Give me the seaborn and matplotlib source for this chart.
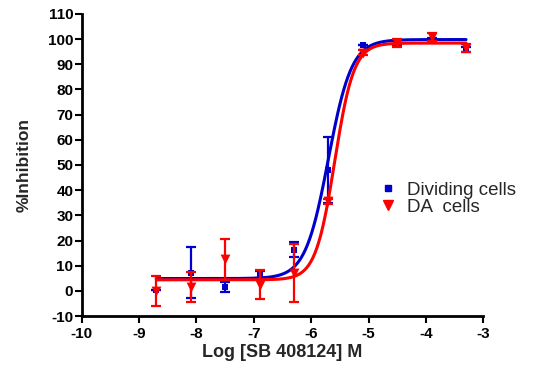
import numpy as np
import pandas as pd
import matplotlib
matplotlib.use("Agg")
import matplotlib.pyplot as plt
import seaborn as sns
from matplotlib.lines import Line2D

sns.set_style("ticks")
plt.rcParams['font.family'] = ['Liberation Sans', 'DejaVu Sans']
plt.rcParams['axes.unicode_minus'] = False

# log concentrations
log_conc = [-8.7, -8.1, -7.5, -6.9, -6.3, -5.7, -5.1, -4.5, -3.9, -3.3]

# Dividing cells (mean, SEM)
div_mean = [0.3, 7.3, 1.5, 6.5, 16.3, 48.0, 97.5, 98.5, 99.5, 95.8]
div_sem = [0.0, 10.3, 2.0, 1.5, 3.0, 13.0, 0.0, 1.0, 1.0, 1.0]

# DA cells (mean, SEM)
da_mean = [0.0, 1.5, 12.5, 2.5, 7.0, 35.5, 94.5, 98.5, 100.8, 96.5]
da_sem = [6.0, 6.0, 8.0, 5.8, 11.5, 1.0, 1.0, 1.5, 1.5, 1.5]

# four-parameter logistic fit parameters: bottom, top, logEC50, hill
div_fit = [4.9, 99.8, -5.70, 2.15]
da_fit = [4.4, 98.4, -5.59, 2.6]

blue = '#0000cc'
red = '#ff0000'

def fit_curve(p):
    xs = np.linspace(min(log_conc), max(log_conc), 300)
    ys = p[0] + (p[1] - p[0]) / (1 + 10 ** ((p[2] - xs) * p[3]))
    return pd.DataFrame({'x': xs, 'y': ys})

fig = plt.figure(figsize=(5.34, 3.65), dpi=100)
ax = fig.add_axes([0.153, 0.134, 0.752, 0.828])

# fitted curves
sns.lineplot(data=fit_curve(div_fit), x='x', y='y', color=blue, lw=2.2, ax=ax, zorder=2)
sns.lineplot(data=fit_curve(da_fit), x='x', y='y', color=red, lw=2.2, ax=ax, zorder=4)

# error bars
ax.errorbar(log_conc, div_mean, yerr=div_sem, fmt='none', ecolor=blue,
            elinewidth=1.6, capsize=3.5, capthick=1.6, zorder=3)
ax.errorbar(log_conc, da_mean, yerr=da_sem, fmt='none', ecolor=red,
            elinewidth=1.6, capsize=3.5, capthick=1.6, zorder=5)

# points
pts = pd.DataFrame({'x': log_conc, 'div': div_mean, 'da': da_mean})
sns.scatterplot(data=pts, x='x', y='div', marker='s', s=22, color=blue,
                edgecolor=blue, linewidth=0, ax=ax, zorder=3)
sns.scatterplot(data=pts, x='x', y='da', marker='v', s=50, color=red,
                edgecolor=red, linewidth=0, ax=ax, zorder=6)

ax.set_xlim(-10, -3)
ax.set_ylim(-10, 110)
ax.set_xticks(range(-10, -2))
ax.set_yticks(range(-10, 111, 10))
ax.set_xlabel('Log [SB 408124] M', fontsize=13, fontweight='bold', labelpad=2)
ax.set_ylabel('%Inhibition', fontsize=12.5, fontweight='bold', labelpad=12)
for lab in ax.get_xticklabels() + ax.get_yticklabels():
    lab.set_fontweight('bold')
ax.tick_params(axis='both', labelsize=11, width=1.5, length=5, direction='out', colors='black')
ax.tick_params(axis='x', pad=3)
ax.tick_params(axis='y', pad=1)
for side in ['left', 'bottom']:
    ax.spines[side].set_linewidth(2)
    ax.spines[side].set_color('black')
sns.despine(ax=ax)

handles = [Line2D([], [], marker='s', color=blue, linestyle='none', markersize=4.5),
           Line2D([], [], marker='v', color=red, linestyle='none', markersize=7.5)]
ax.legend(handles, ['Dividing cells', 'DA  cells'], frameon=False, fontsize=13.5,
          loc='upper left', bbox_to_anchor=(0.71, 0.47), handletextpad=0.25,
          labelspacing=0.0, handlelength=1.5, borderaxespad=0)

fig.savefig('out.png', dpi=100)
